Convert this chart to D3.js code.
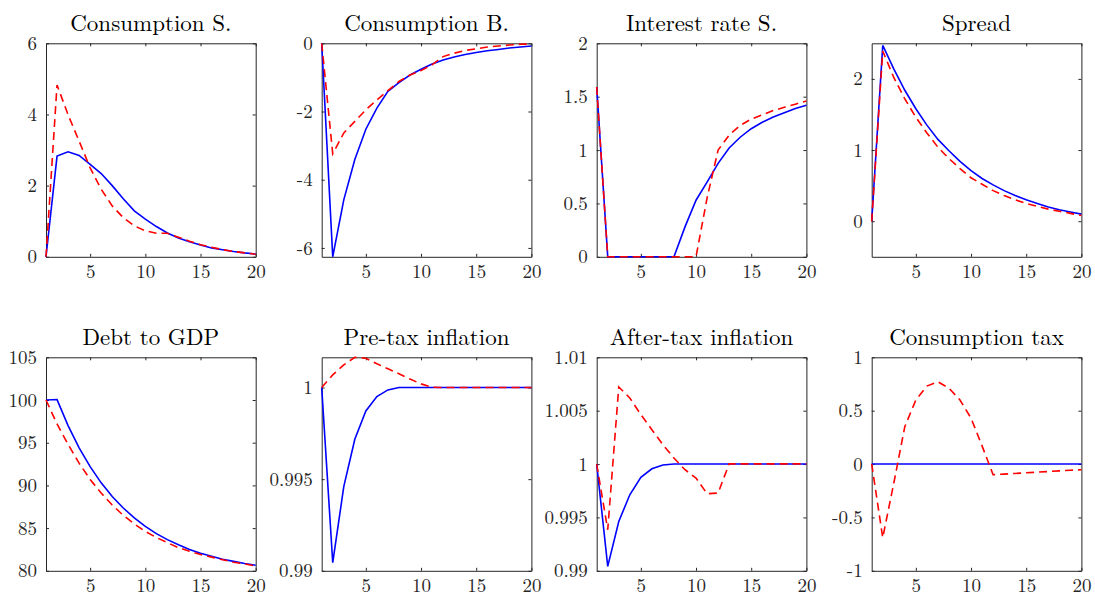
<!DOCTYPE html>
<html>
<head>
<meta charset="utf-8">
<script src="https://cdn.jsdelivr.net/npm/d3@7"></script>
<style>
  body { margin: 0; background: #fff; }
</style>
</head>
<body>
<div id="chart-area"></div>
<script>
var W = 1095, H = 597;

// Data: periods and impulse responses (solid blue = baseline, dashed red = alternative)
var periods = [1,2,3,4,5,6,7,8,9,10,11,12,13,14,15,16,17,18,19,20];

var titles = ["Consumption S.", "Consumption B.", "Interest rate S.", "Spread",
              "Debt to GDP", "Pre-tax inflation", "After-tax inflation", "Consumption tax"];

var consSBlue = [0, 2.83, 2.95, 2.85, 2.6, 2.34, 2.0, 1.63, 1.29, 1.06, 0.85, 0.67, 0.53, 0.42, 0.33, 0.25, 0.2, 0.15, 0.11, 0.08];
var consSRed  = [0, 4.83, 3.99, 3.25, 2.5, 1.9, 1.43, 1.1, 0.87, 0.73, 0.66, 0.66, 0.55, 0.44, 0.34, 0.27, 0.2, 0.15, 0.11, 0.07];

var consBBlue = [0, -6.26, -4.59, -3.41, -2.52, -1.9, -1.41, -1.15, -0.93, -0.76, -0.61, -0.49, -0.4, -0.33, -0.27, -0.22, -0.18, -0.14, -0.11, -0.08];
var consBRed  = [0, -3.24, -2.63, -2.29, -1.95, -1.66, -1.39, -1.12, -0.93, -0.8, -0.63, -0.39, -0.29, -0.21, -0.16, -0.11, -0.08, -0.05, -0.03, -0.02];

var rateBlue = [1.59, 0, 0, 0, 0, 0, 0, 0, 0.28, 0.53, 0.7, 0.875, 1.02, 1.12, 1.2, 1.26, 1.31, 1.35, 1.39, 1.42];
var rateRed  = [1.59, 0, 0, 0, 0, 0, 0, 0, 0, 0, 0.55, 1.0, 1.14, 1.23, 1.29, 1.33, 1.37, 1.4, 1.43, 1.46];

var spreadBlue = [0, 2.47, 2.14, 1.84, 1.58, 1.35, 1.15, 0.99, 0.84, 0.71, 0.6, 0.51, 0.43, 0.36, 0.3, 0.25, 0.2, 0.16, 0.13, 0.1];
var spreadRed  = [0, 2.39, 2.02, 1.72, 1.46, 1.24, 1.04, 0.88, 0.74, 0.61, 0.52, 0.43, 0.36, 0.3, 0.25, 0.21, 0.17, 0.14, 0.11, 0.08];

var debtBlue = [100, 100.05, 97.0, 94.4, 92.2, 90.3, 88.7, 87.35, 86.2, 85.2, 84.35, 83.65, 83.05, 82.5, 82.05, 81.7, 81.35, 81.1, 80.85, 80.65];
var debtRed  = [100, 97.2, 94.8, 92.6, 90.7, 89.1, 87.7, 86.5, 85.5, 84.6, 83.9, 83.3, 82.7, 82.3, 81.9, 81.6, 81.3, 81.0, 80.8, 80.55];

var preInfBlue = [1, 0.99044, 0.99459, 0.99718, 0.99872, 0.99951, 0.99987, 1, 1, 1, 1, 1, 1, 1, 1, 1, 1, 1, 1, 1];
var preInfRed  = [1, 1.00069, 1.00124, 1.00165, 1.0016, 1.0013, 1.00102, 1.00075, 1.00046, 1.0002, 1.00002, 1, 1, 1, 1, 1, 1, 1, 1, 1];

var aftInfBlue = [1, 0.99041, 0.99462, 0.99712, 0.99875, 0.99956, 0.99991, 1, 1, 1, 1, 1, 1, 1, 1, 1, 1, 1, 1, 1];
var aftInfRed  = [1, 0.99384, 1.00722, 1.00619, 1.00463, 1.00322, 1.00181, 1.00056, 0.99947, 0.99869, 0.99722, 0.99728, 1.00002, 1.00002, 1.00002, 1.00002, 1.00002, 1.00002, 1.00002, 1.00002];

var taxBlue = [0, 0, 0, 0, 0, 0, 0, 0, 0, 0, 0, 0, 0, 0, 0, 0, 0, 0, 0, 0];
var taxRed  = [0, -0.69, -0.18, 0.35, 0.6, 0.73, 0.77, 0.71, 0.6, 0.43, 0.17, -0.1, -0.094, -0.088, -0.082, -0.076, -0.07, -0.064, -0.058, -0.053];

var blueSeries = [consSBlue, consBBlue, rateBlue, spreadBlue, debtBlue, preInfBlue, aftInfBlue, taxBlue];
var redSeries  = [consSRed, consBRed, rateRed, spreadRed, debtRed, preInfRed, aftInfRed, taxRed];

var yDomains = [[0, 6], [-6.26, 0], [0, 2], [-0.5, 2.5], [80, 105], [0.99, 1.00165], [0.99, 1.01], [-1, 1]];
var yTicks = [[0, 2, 4, 6], [-6, -4, -2, 0], [0, 0.5, 1, 1.5, 2], [0, 1, 2], [80, 85, 90, 95, 100, 105],
              [0.99, 0.995, 1], [0.99, 0.995, 1, 1.005, 1.01], [-1, -0.5, 0, 0.5, 1]];
var xTicks = [5, 10, 15, 20];

// Layout
var lefts = [46, 321.7, 596.7, 871.7];
var tops = [43.3, 357.3];
var pw = 209.7, ph = 213.5;
var tickLen = 3;
var axisColor = "#262626";
var serif = "'Latin Modern Roman', 'CMU Serif', 'Liberation Serif', 'Times New Roman', Times, " +
            "'DejaVu Serif', 'Nimbus Roman', FreeSerif, 'Noto Serif', Georgia, serif";

var svg = d3.select("#chart-area")
    .append("svg")
        .attr("width", W)
        .attr("height", H)
        .style("font-family", serif);

titles.forEach(function(title, i) {
    var col = i % 4, row = Math.floor(i / 4);
    var g = svg.append("g")
        .attr("transform", "translate(" + lefts[col] + "," + tops[row] + ")");

    var x = d3.scaleLinear().domain([1, 20]).range([0, pw]);
    var y = d3.scaleLinear().domain(yDomains[i]).range([ph, 0]);

    // Axes, ticks pointing inward (box on)
    var fmt = function(d) { return String(+d.toFixed(4)); };
    g.append("g")
        .attr("transform", "translate(0," + ph + ")")
        .call(d3.axisBottom(x).tickValues(xTicks).tickSizeInner(-tickLen).tickSizeOuter(0).tickPadding(8).tickFormat(fmt));
    g.append("g")
        .call(d3.axisTop(x).tickValues(xTicks).tickSizeInner(-tickLen).tickSizeOuter(0).tickFormat(""));
    g.append("g")
        .call(d3.axisLeft(y).tickValues(yTicks[i]).tickSizeInner(-tickLen).tickSizeOuter(0).tickPadding(9).tickFormat(fmt));
    g.append("g")
        .attr("transform", "translate(" + pw + ",0)")
        .call(d3.axisRight(y).tickValues(yTicks[i]).tickSizeInner(-tickLen).tickSizeOuter(0).tickFormat(""));

    g.selectAll("g").attr("font-family", serif).attr("font-size", 19);
    g.selectAll(".domain").attr("stroke", axisColor).attr("stroke-width", 1);
    g.selectAll(".tick line").attr("stroke", axisColor);
    g.selectAll(".tick text")
        .style("font-family", serif)
        .style("font-size", "19px")
        .attr("fill", axisColor);

    // Lines
    var line = d3.line()
        .x(function(d, k) { return x(periods[k]); })
        .y(function(d) { return y(d); });

    g.append("path")
        .datum(blueSeries[i])
        .attr("fill", "none")
        .attr("stroke", "#0000ff")
        .attr("stroke-width", 1.6)
        .attr("d", line);

    g.append("path")
        .datum(redSeries[i])
        .attr("fill", "none")
        .attr("stroke", "#ff0000")
        .attr("stroke-width", 1.6)
        .attr("stroke-dasharray", "8,5")
        .attr("d", line);

    // Title
    g.append("text")
        .attr("x", pw / 2)
        .attr("y", -12)
        .attr("text-anchor", "middle")
        .style("font-family", serif)
        .style("font-size", "23px")
        .attr("fill", "#000")
        .text(title);
});
</script>
</body>
</html>
